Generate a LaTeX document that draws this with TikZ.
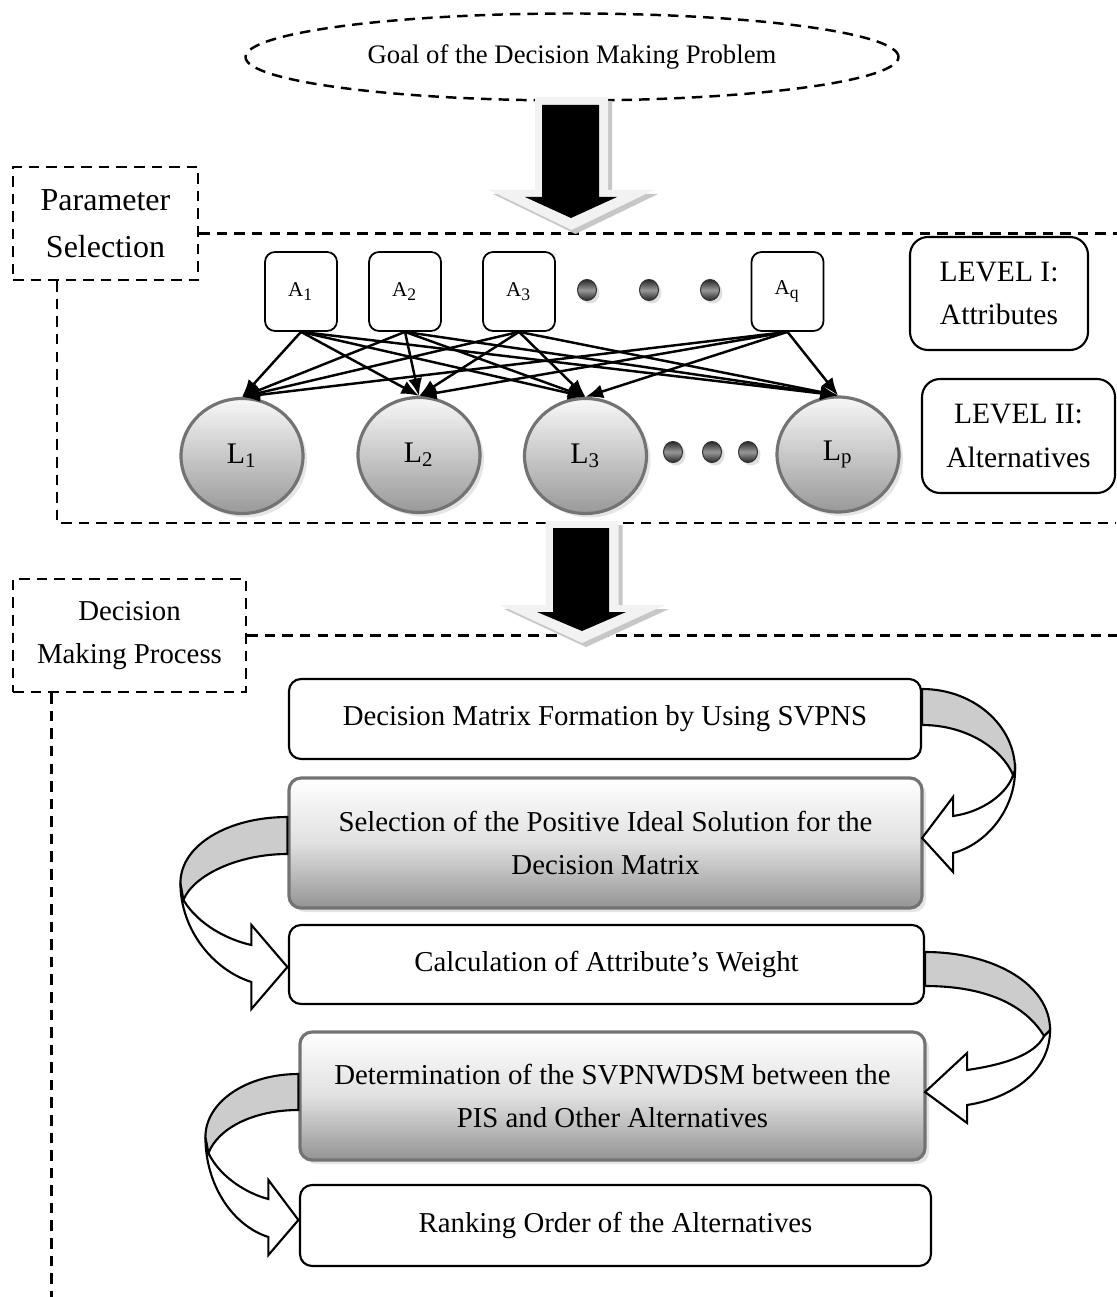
\documentclass[tikz,border=0pt]{standalone}
\usepackage{fontspec}
\setmainfont{Liberation Serif}
\usepackage{tikz}
\usetikzlibrary{shapes.geometric, shadows, arrows.meta}

\begin{document}
\begin{tikzpicture}[
    every node/.style={font=\fontsize{8.2}{12.5}\selectfont},
    frame/.style={line width=0.7pt, dash pattern=on 3pt off 2pt},
    goal/.style={ellipse, draw, frame, minimum width=6.53cm, minimum height=0.87cm, font=\fontsize{7.6}{9}\selectfont},
    section/.style={rectangle, draw, frame, align=center, inner sep=0pt},
    attr/.style={rectangle, draw, rounded corners=0.1cm, line width=0.5pt, minimum width=0.72cm, minimum height=0.79cm, inner sep=0pt, font=\fontsize{6}{7}\selectfont},
    alt/.style={ellipse, draw=black!55, line width=0.9pt, top color=black!3, bottom color=black!40, minimum width=1.22cm, minimum height=1.15cm, inner sep=0pt, drop shadow={shadow xshift=0.04cm, shadow yshift=-0.04cm, fill=black!20}, font=\fontsize{8.5}{10}\selectfont},
    dot/.style={ellipse, draw=black!80, line width=0.3pt, top color=black!85, bottom color=black!85, middle color=black!40, minimum width=0.19cm, minimum height=0.21cm, inner sep=0pt, drop shadow={shadow xshift=0.03cm, shadow yshift=-0.03cm, fill=black!25}},
    level/.style={rectangle, draw, rounded corners=0.18cm, line width=0.6pt, align=center, inner sep=0pt, font=\fontsize{8.4}{12.5}\selectfont},
    process/.style={rectangle, draw, rounded corners=0.12cm, line width=0.6pt, align=center, inner sep=0pt},
    shaded/.style={process, draw=black!55, line width=0.9pt, top color=white, bottom color=black!42, middle color=black!12, drop shadow={shadow xshift=0.04cm, shadow yshift=-0.04cm, fill=black!20}},
    link/.style={-{Latex[length=5pt, width=4pt]}, line width=0.7pt},
    band/.style={draw, line width=0.6pt, fill=black!20},
    turn/.style={draw, line width=0.6pt, fill=white}
]
\useasboundingbox (0,0) rectangle (11.16,-12.97);

% Nodos
\node[goal] (goal) at (5.72,-0.57) {Goal of the Decision Making Problem};
\node[section, minimum width=1.85cm, minimum height=1.13cm, font=\fontsize{9.1}{13.4}\selectfont] (param) at (1.055,-2.235) {Parameter\\Selection};
\node[section, minimum width=2.33cm, minimum height=1.13cm, font=\fontsize{8.2}{12.2}\selectfont] (decproc) at (1.295,-6.355) {Decision\\Making Process};

\node[attr] (a1) at (3.01,-2.915) {A\textsubscript{1}};
\node[attr] (a2) at (4.05,-2.915) {A\textsubscript{2}};
\node[attr] (a3) at (5.19,-2.915) {A\textsubscript{3}};
\node[attr] (aq) at (7.875,-2.915) {A\textsubscript{q}};
\node[dot] (da1) at (5.87,-2.90) {};
\node[dot] (da2) at (6.49,-2.90) {};
\node[dot] (da3) at (7.10,-2.90) {};

\node[level, minimum width=1.78cm, minimum height=1.13cm] (lev1) at (9.99,-2.935) {LEVEL I:\\Attributes};
\node[level, minimum width=1.93cm, minimum height=1.14cm] (lev2) at (10.185,-4.36) {LEVEL II:\\Alternatives};

\node[alt] (l1) at (2.42,-4.56) {L\textsubscript{1}};
\node[alt] (l2) at (4.19,-4.55) {L\textsubscript{2}};
\node[alt] (l3) at (5.855,-4.56) {L\textsubscript{3}};
\node[alt] (lp) at (8.38,-4.545) {L\textsubscript{p}};
\node[dot] (dl1) at (6.73,-4.52) {};
\node[dot] (dl2) at (7.12,-4.52) {};
\node[dot] (dl3) at (7.48,-4.52) {};

\node[process, minimum width=6.32cm, minimum height=0.80cm] (dmf) at (6.05,-7.19) {Decision Matrix Formation by Using SVPNS};
\node[shaded, minimum width=6.33cm, minimum height=1.30cm] (pis) at (6.055,-8.43) {Selection of the Positive Ideal Solution for the\\Decision Matrix};
\node[process, minimum width=6.35cm, minimum height=0.79cm] (wgt) at (6.065,-9.645) {Calculation of Attribute’s Weight};
\node[shaded, minimum width=6.25cm, minimum height=1.28cm] (dsm) at (6.125,-10.96) {Determination of the SVPNWDSM between the\\PIS and Other Alternatives};
\node[process, minimum width=6.31cm, minimum height=0.81cm] (rank) at (6.155,-12.255) {Ranking Order of the Alternatives};

% Marcos
\draw[frame] ([yshift=-0.1cm]param.east) -- ++(9.18,0);
\draw[frame] ([xshift=0.45cm]param.south west) |- (11.16,-5.23);
\draw[frame] (decproc.east) -- ++(9.63,0);
\draw[frame] ([xshift=0.395cm]decproc.south west) -- ++(0,-6.05);

% Flechas
\draw[link] (a1.south) -- (l1.north);
\draw[link] (a1.south) -- (l2.north);
\draw[link] (a1.south) -- (l3.north);
\draw[link] (a1.south) -- (lp.north);
\draw[link] (a2.south) -- (l1.north);
\draw[link] (a2.south) -- (l2.north);
\draw[link] (a2.south) -- (l3.north);
\draw[link] (a2.south) -- (lp.north);
\draw[link] (a3.south) -- (l1.north);
\draw[link] (a3.south) -- (l2.north);
\draw[link] (a3.south) -- (l3.north);
\draw[link] (a3.south) -- (lp.north);
\draw[link] (aq.south) -- (l1.north);
\draw[link] (aq.south) -- (l2.north);
\draw[link] (aq.south) -- (l3.north);
\draw[link] (aq.south) -- (lp.north);

% Flechas grandes
\fill[black!22, xshift=0.04cm, yshift=-0.04cm] (5.35,-0.97) -- (6.08,-0.97) -- (6.08,-1.90) -- (6.54,-1.90) -- (5.715,-2.30) -- (4.89,-1.90) -- (5.35,-1.90) -- cycle;
\fill[black!5] (5.35,-0.97) -- (6.08,-0.97) -- (6.08,-1.90) -- (6.54,-1.90) -- (5.715,-2.30) -- (4.89,-1.90) -- (5.35,-1.90) -- cycle;
\fill[black] (5.42,-1.05) -- (5.99,-1.05) -- (5.99,-1.97) -- (6.17,-1.97) -- (5.71,-2.18) -- (5.25,-1.97) -- (5.42,-1.97) -- cycle;

\fill[black!22, xshift=0.04cm, yshift=-0.04cm] (5.455,-5.21) -- (6.185,-5.21) -- (6.185,-6.05) -- (6.65,-6.05) -- (5.82,-6.43) -- (5.00,-6.05) -- (5.455,-6.05) -- cycle;
\fill[black!5] (5.455,-5.21) -- (6.185,-5.21) -- (6.185,-6.05) -- (6.65,-6.05) -- (5.82,-6.43) -- (5.00,-6.05) -- (5.455,-6.05) -- cycle;
\fill[black] (5.53,-5.28) -- (6.09,-5.28) -- (6.09,-6.12) -- (6.26,-6.12) -- (5.82,-6.31) -- (5.37,-6.12) -- (5.53,-6.12) -- cycle;

% Flechas curvas
\draw[turn, shift={(dmf.east)}] (0.93,-0.51) .. controls (0.93,-0.90) and (0.65,-1.25) .. (0.31,-1.34) -- (0.31,-1.53) -- (0,-1.19) -- (0.31,-0.78) -- (0.31,-0.97) .. controls (0.60,-0.93) and (0.85,-0.75) .. (0.91,-0.56) -- cycle;
\draw[band, shift={(dmf.east)}] (0,0.30) .. controls (0.51,0.30) and (0.93,-0.06) .. (0.93,-0.51) -- (0.91,-0.56) .. controls (0.80,-0.30) and (0.45,-0.06) .. (0,-0.06) -- cycle;

\draw[turn, shift={(pis.west)}] (-1.07,-0.40) .. controls (-1.07,-0.87) and (-0.74,-1.27) .. (-0.36,-1.39) -- (-0.36,-1.66) -- (0,-1.24) -- (-0.36,-0.82) -- (-0.36,-1.02) .. controls (-0.59,-0.97) and (-0.89,-0.82) .. (-1.04,-0.57) -- cycle;
\draw[band, shift={(pis.west)}] (0,0.26) .. controls (-0.59,0.26) and (-1.07,-0.02) .. (-1.07,-0.40) -- (-1.04,-0.57) .. controls (-0.94,-0.32) and (-0.49,-0.11) .. (0,-0.11) -- cycle;

\draw[turn, shift={(wgt.east)}] (1.25,-0.655) .. controls (1.25,-1.05) and (0.90,-1.33) .. (0.42,-1.405) -- (0.42,-1.585) -- (0,-1.275) -- (0.42,-0.885) -- (0.42,-1.055) .. controls (0.80,-1.00) and (1.10,-0.90) .. (1.19,-0.715) -- cycle;
\draw[band, shift={(wgt.east)}] (0,0.125) .. controls (0.69,0.125) and (1.25,-0.20) .. (1.25,-0.655) -- (1.19,-0.715) .. controls (1.00,-0.40) and (0.60,-0.215) .. (0,-0.215) -- cycle;

\draw[turn, shift={(dsm.west)}] (-0.93,-0.41) .. controls (-0.93,-0.90) and (-0.65,-1.30) .. (-0.30,-1.41) -- (-0.30,-1.59) -- (0,-1.24) -- (-0.30,-0.84) -- (-0.30,-1.03) .. controls (-0.50,-0.98) and (-0.78,-0.82) .. (-0.90,-0.57) -- cycle;
\draw[band, shift={(dsm.west)}] (0,0.22) .. controls (-0.52,0.22) and (-0.93,-0.06) .. (-0.93,-0.41) -- (-0.90,-0.57) .. controls (-0.80,-0.32) and (-0.45,-0.14) .. (0,-0.14) -- cycle;

\end{tikzpicture}
\end{document}
